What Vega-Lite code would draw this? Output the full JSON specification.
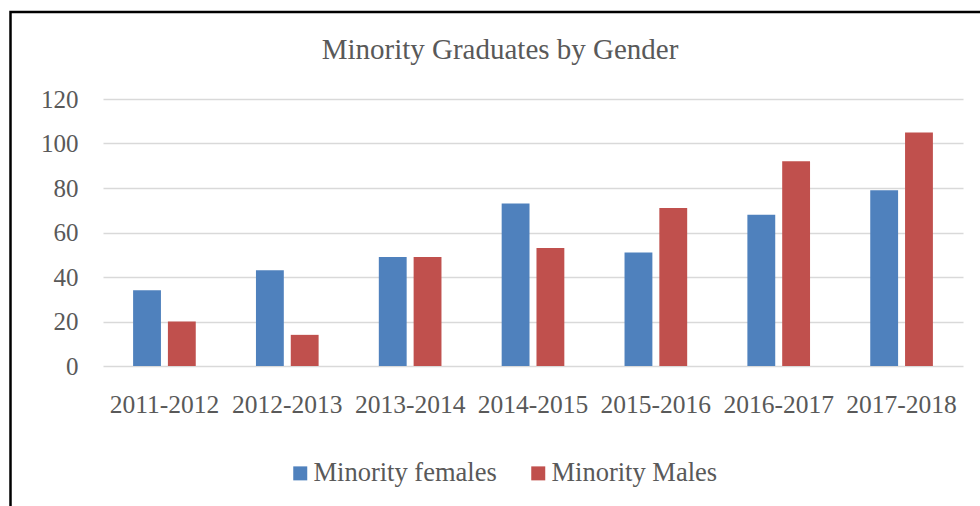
{
  "$schema": "https://vega.github.io/schema/vega-lite/v6.json",
  "autosize": {"type": "none"},
  "width": 860,
  "height": 267,
  "padding": {"left": 103, "top": 99, "right": 17, "bottom": 140},
  "background": "white",
  "title": {
    "text": "Minority Graduates by Gender",
    "font": "Liberation Serif",
    "fontSize": 29,
    "fontWeight": "normal",
    "color": "#595959",
    "anchor": "middle",
    "baseline": "alphabetic",
    "dx": -33,
    "offset": -77
  },
  "config": {
    "view": {"stroke": null},
    "font": "Liberation Serif"
  },
  "layer": [
    {
      "data": {"values": [{}]},
      "mark": {"type": "rect", "x": -92.5, "y": -87, "x2": 900, "y2": 430, "fill": null, "stroke": "#000000", "strokeWidth": 2.5},
      "encoding": {}
    },
    {
      "data": {
        "values": [
          {"year": "2011-2012", "series": "Minority females", "count": 34},
          {"year": "2011-2012", "series": "Minority Males", "count": 20},
          {"year": "2012-2013", "series": "Minority females", "count": 43},
          {"year": "2012-2013", "series": "Minority Males", "count": 14},
          {"year": "2013-2014", "series": "Minority females", "count": 49},
          {"year": "2013-2014", "series": "Minority Males", "count": 49},
          {"year": "2014-2015", "series": "Minority females", "count": 73},
          {"year": "2014-2015", "series": "Minority Males", "count": 53},
          {"year": "2015-2016", "series": "Minority females", "count": 51},
          {"year": "2015-2016", "series": "Minority Males", "count": 71},
          {"year": "2016-2017", "series": "Minority females", "count": 68},
          {"year": "2016-2017", "series": "Minority Males", "count": 92},
          {"year": "2017-2018", "series": "Minority females", "count": 79},
          {"year": "2017-2018", "series": "Minority Males", "count": 105}
        ]
      },
      "mark": {"type": "bar"},
      "encoding": {
        "x": {
          "field": "year",
          "type": "nominal",
          "sort": null,
          "title": null,
          "scale": {"paddingInner": 0.49, "paddingOuter": 0.245},
          "axis": {
            "labelAngle": 0,
            "labelFont": "Liberation Serif",
            "labelFontSize": 25.5,
            "labelColor": "#595959",
            "labelPadding": 26,
            "ticks": false,
            "domain": false,
            "grid": false
          }
        },
        "xOffset": {
          "field": "series",
          "type": "nominal",
          "sort": ["Minority females", "Minority Males"],
          "scale": {"paddingInner": 0.2, "paddingOuter": 0}
        },
        "y": {
          "field": "count",
          "type": "quantitative",
          "title": null,
          "scale": {"domain": [0, 120], "nice": false},
          "axis": {
            "values": [0, 20, 40, 60, 80, 100, 120],
            "labelFont": "Liberation Serif",
            "labelFontSize": 25,
            "labelColor": "#595959",
            "labelPadding": 25,
            "ticks": false,
            "domain": false,
            "grid": true,
            "gridColor": "#D9D9D9",
            "gridWidth": 1.4
          }
        },
        "color": {
          "field": "series",
          "type": "nominal",
          "title": null,
          "sort": ["Minority females", "Minority Males"],
          "scale": {"domain": ["Minority females", "Minority Males"], "range": ["#4F81BD", "#C0504D"]},
          "legend": {
            "orient": "none",
            "direction": "horizontal",
            "legendX": 184,
            "legendY": 361,
            "symbolType": "square",
            "symbolSize": 196,
            "symbolStrokeWidth": 0,
            "labelFont": "Liberation Serif",
            "labelFontSize": 26.5,
            "labelColor": "#595959",
            "labelOffset": 0,
            "columnPadding": 28,
            "labelLimit": 400
          }
        }
      }
    }
  ]
}
